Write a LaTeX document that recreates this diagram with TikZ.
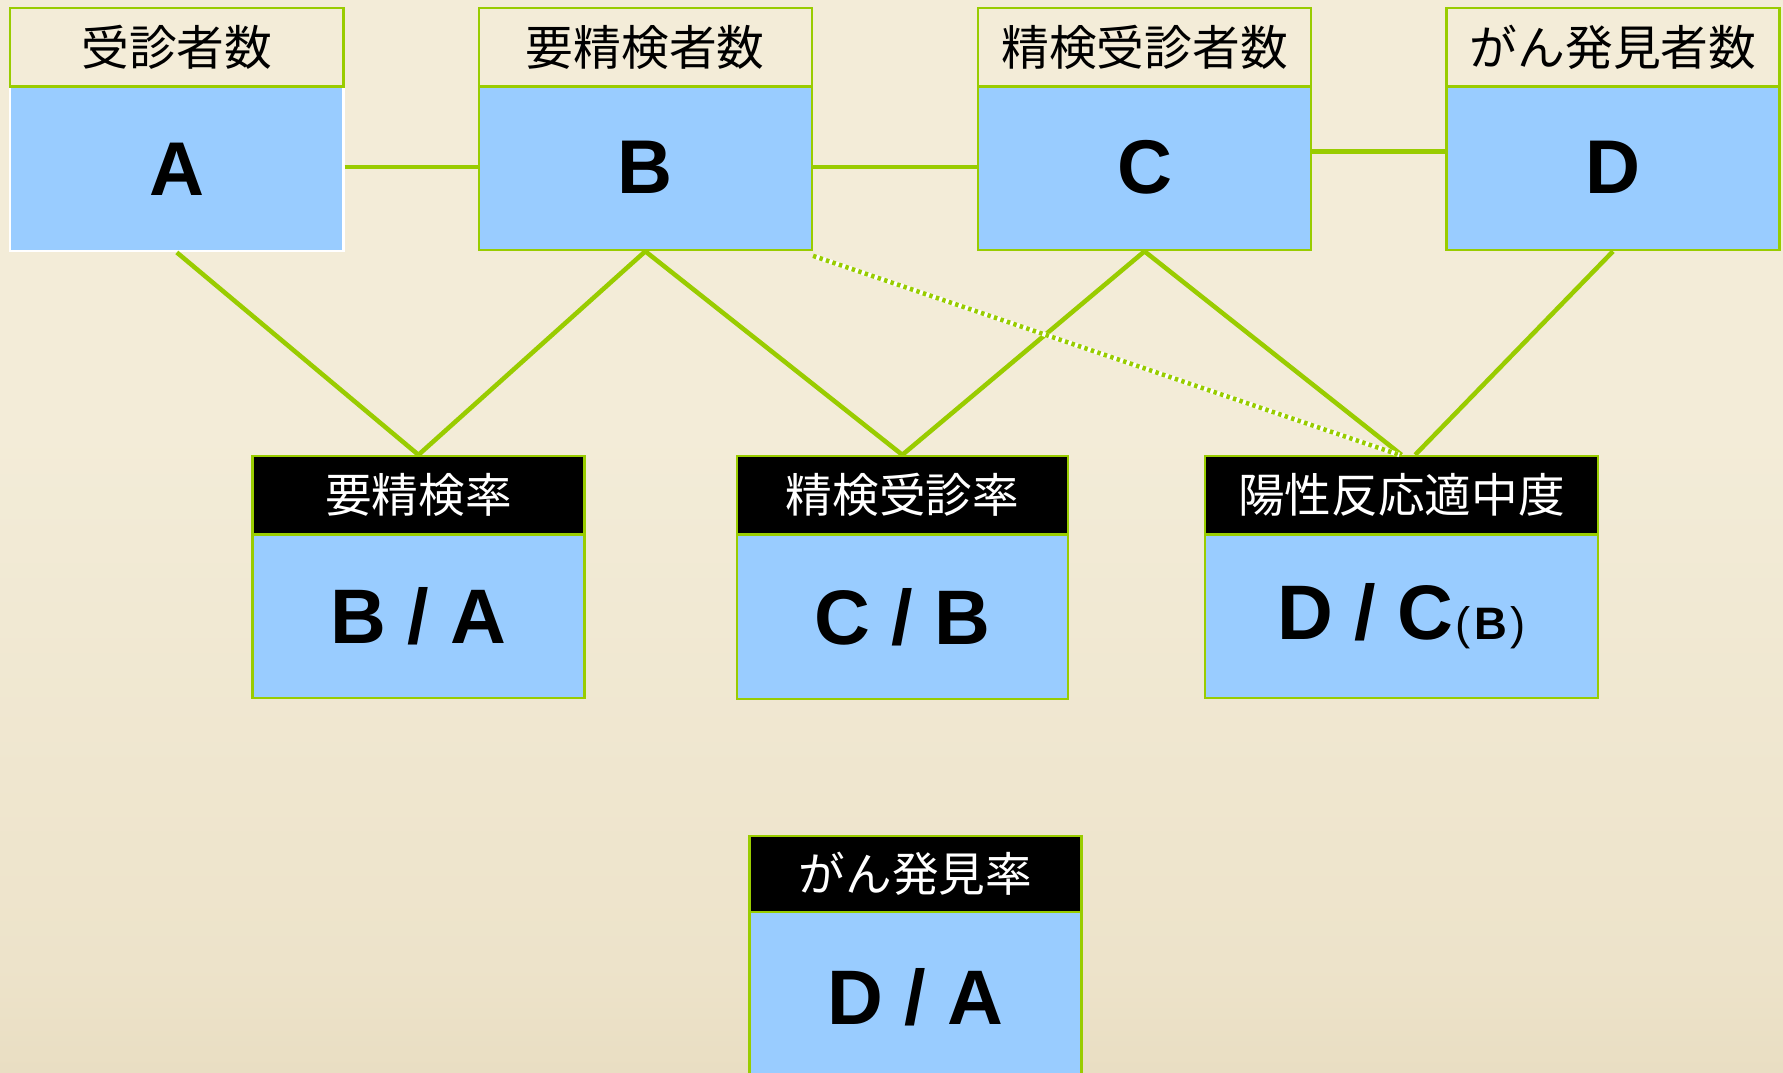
\documentclass[tikz,border=0pt]{standalone}
\usepackage{fontspec}
\setmainfont{Liberation Sans}
\newfontfamily\cjk{Noto Sans CJK JP}
\definecolor{lgreen}{HTML}{99CC00}
\definecolor{lblue}{HTML}{99CCFF}
\definecolor{bgtop}{HTML}{F3ECD8}
\definecolor{bgmid}{HTML}{EDE3CA}
\definecolor{bgbot}{HTML}{D6C59E}
\definecolor{hdrbeige}{HTML}{F3ECD8}
\pgfdeclareverticalshading{bgshade}{100bp}{color(0bp)=(bgbot); color(30bp)=(bgmid); color(55bp)=(bgtop); color(100bp)=(bgtop)}
\begin{document}
\begin{tikzpicture}[x=1pt,y=-1pt,
  tophdr/.style={draw=lgreen, line width=2pt, fill=hdrbeige, minimum width=293pt, minimum height=69pt, anchor=north west, inner sep=0pt, font=\cjk\fontsize{42}{46}\selectfont},
  midhdr/.style={draw=lgreen, line width=2pt, fill=black, text=white, minimum height=69pt, anchor=north west, inner sep=0pt, font=\cjk\fontsize{41}{45}\selectfont},
  topbody/.style={draw=lgreen, line width=2pt, fill=lblue, minimum width=293pt, minimum height=145pt, anchor=north west, inner sep=0pt, font=\bfseries\fontsize{67}{72}\selectfont},
  midbody/.style={draw=lgreen, line width=2pt, fill=lblue, minimum height=144pt, anchor=north west, inner sep=0pt, font=\bfseries\fontsize{68}{72}\selectfont},
  conn/.style={draw=lgreen, line width=4pt}
]
\useasboundingbox (0,0) rectangle (1568,943);
\shade[shading=bgshade] (0,0) rectangle (1568,943);

% top row
\node[topbody, draw=white] (A) at (8,75) {A};
\node[tophdr] (hA) at (8,6) {\raisebox{-3pt}{受診者数}};
\node[topbody] (B) at (420,74) {B};
\node[tophdr] (hB) at (420,6) {\raisebox{-3pt}{要精検者数}};
\node[topbody] (C) at (859,74) {C};
\node[tophdr] (hC) at (859,6) {\raisebox{-3pt}{精検受診者数}};
\node[topbody] (D) at (1271,74) {D};
\node[tophdr] (hD) at (1271,6) {\raisebox{-3pt}{がん発見者数}};

% middle row
\node[midbody, minimum width=292pt] (r1) at (221,469) {B / A};
\node[midhdr, minimum width=292pt] (h1) at (221,400) {\raisebox{-2pt}{要精検率}};
\node[midbody, minimum width=291pt, minimum height=145pt] (r2) at (647,469) {C / B};
\node[midhdr, minimum width=291pt] (h2) at (647,400) {\raisebox{-2pt}{精検受診率}};
\node[midbody, minimum width=345pt] (r3) at (1059,469) {D / C\hspace{2pt}{\mdseries\fontsize{40}{44}\selectfont (\hspace{3pt}\textbf{B}\hspace{3pt})}};
\node[midhdr, minimum width=345pt] (h3) at (1059,400) {\raisebox{-2pt}{陽性反応適中度}};

% bottom
\node[midbody, minimum width=292pt, minimum height=150pt] (r4) at (658,801) {D / A};
\node[midhdr, minimum width=292pt, minimum height=67pt] (h4) at (658,734) {\raisebox{-2pt}{がん発見率}};

% connectors
\draw[conn] (A.east |- 0,147) -- (B.west |- 0,147);
\draw[conn] (B.east |- 0,147) -- (C.west |- 0,147);
\draw[conn] (C.east |- 0,133) -- (D.west |- 0,133);

\draw[conn] (A.south) -- (h1.north);
\draw[conn] (B.south) -- (h1.north);
\draw[conn] (B.south) -- (h2.north);
\draw[conn] (C.south) -- (h2.north);
\draw[conn] (C.south) -- (h3.north);
\draw[conn] (D.south) -- ([xshift=12pt]h3.north);
\draw[white, line width=4pt] ([yshift=-4pt]B.south east) -- ([xshift=-2pt]h3.north);
\draw[lgreen, line width=4pt, dash pattern=on 3pt off 3pt] ([yshift=-4pt]B.south east) -- ([xshift=-2pt]h3.north);
\end{tikzpicture}
\end{document}
